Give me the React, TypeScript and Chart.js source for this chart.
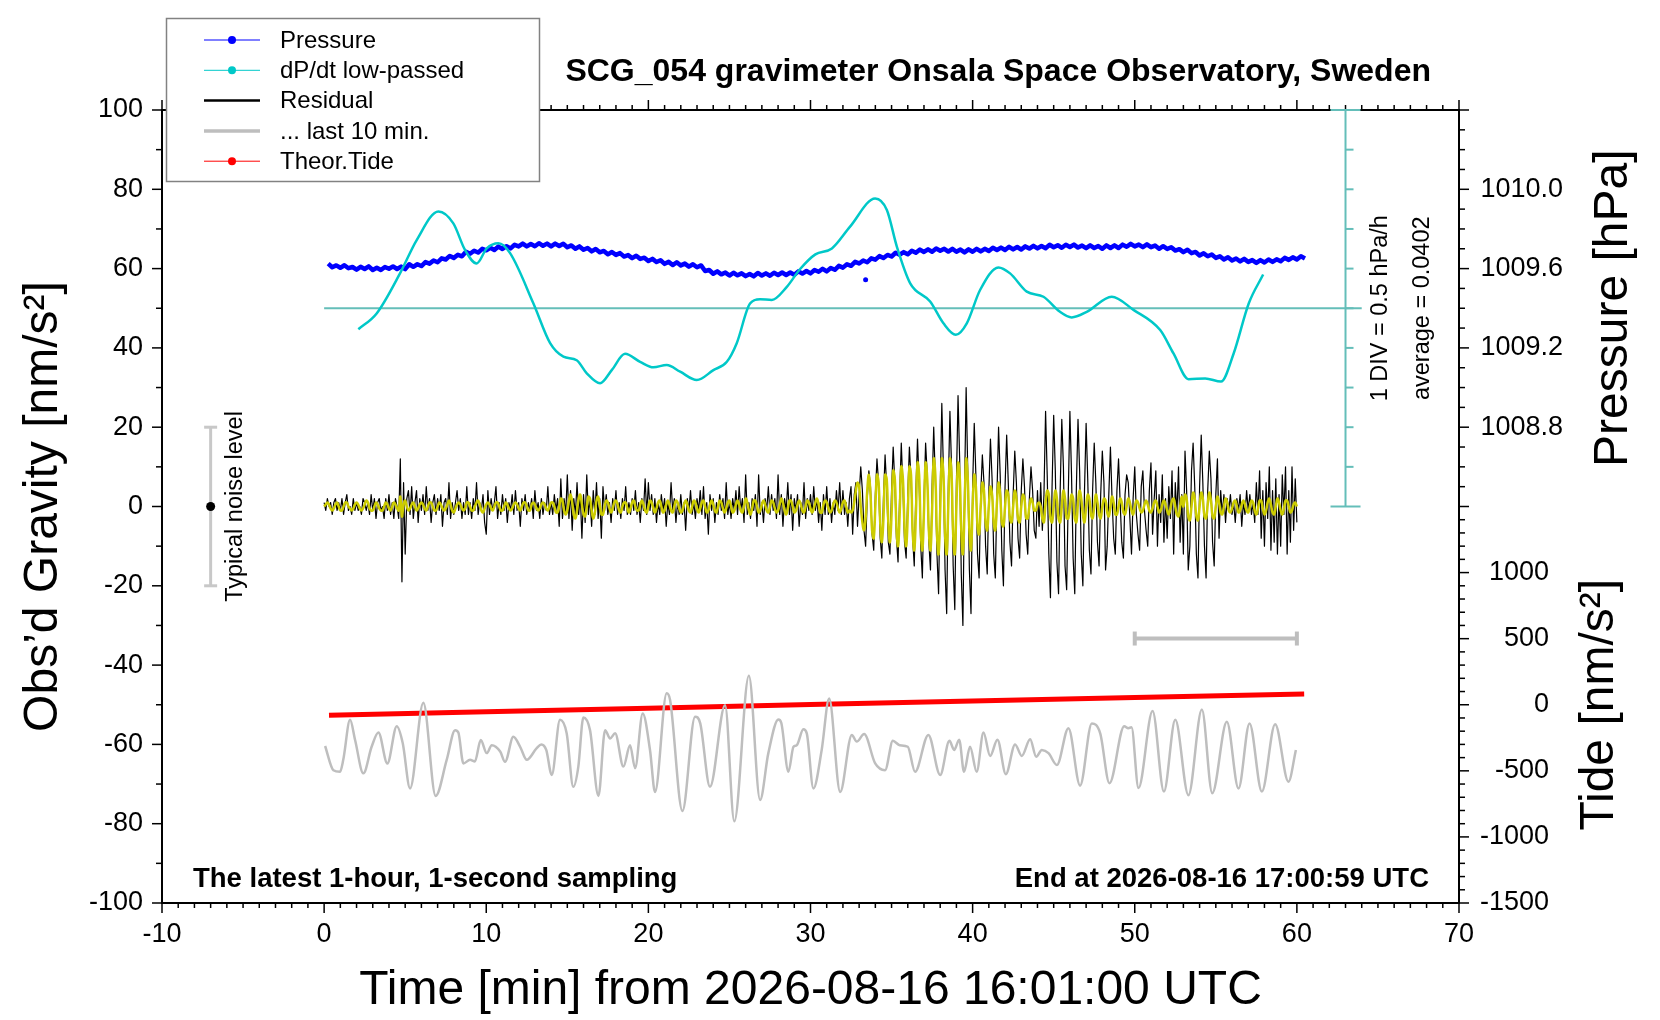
import { useEffect, useRef } from 'react';
import { Chart, registerables } from 'chart.js';

Chart.register(...registerables);

const FONT = "'Liberation Sans', Arial, Helvetica, sans-serif";
Chart.defaults.font.family = FONT;
Chart.defaults.color = '#000';

const TITLE = 'SCG_054 gravimeter Onsala Space Observatory, Sweden';
const NOTE_LEFT = 'The latest 1-hour, 1-second sampling';
const NOTE_RIGHT = 'End at 2026-08-16 17:00:59 UTC';
const LEGEND_LABELS = ['Pressure', 'dP/dt low-passed', 'Residual', '... last 10 min.', 'Theor.Tide'];

// axis ranges
const P_MIN = 1006.4;
const P_MAX = 1010.4;
const TIDE_MIN = -1500;
const TIDE_MAX = 4500;
// dP/dt bar: 1 DIV = 0.5 hPa/h around the average
const DPDT_AVG = 0.0402;
const DPDT_DIV = 0.5;
const DPDT_MIN = DPDT_AVG - 15 * DPDT_DIV;
const DPDT_MAX = DPDT_AVG + 5 * DPDT_DIV;

const PRESSURE_TICKS = [1008.8, 1009.2, 1009.6, 1010.0];
const TIDE_TICKS = [-1500, -1000, -500, 0, 500, 1000];

const NOISE_AT = -7;
const NOISE_LEVEL = 20;
const WINDOW_BAR = [50, 60];
const WINDOW_BAR_Y = -33.3;
const DPDT_BAR_AT = 63;
const AVG_LINE = [0, 64];

// residual sampled every 0.1 min (0 .. 60)
const RES_STEP = 0.1;
const RESIDUAL = [
  1, -1, 2, 0, 1, -2, 1, 2, -1, 1,
  -1, 2, -2, 1, 3, -1, 0, -2, 2, -1,
  1, -1, 0, -2, 2, 1, -1, 1, -2, 3,
  -1, 2, -3, 1, 2, -1, 0, -3, 2, -1,
  3, -2, 1, -3, 2, 0, -3, 12, -19, 6,
  -12, 2, 4, -2, 5, -3, 1, 4, -4, 2,
  -1, 3, -2, 5, -1, 2, -4, 1, 3, -2,
  2, -1, 3, -5, 1, 2, -2, 6, -3, 1,
  -2, 1, 4, -1, 2, -3, 1, -2, 5, -2,
  1, -3, 2, -1, 6, -2, 1, -1, 3, -4,
  -7, 4, -2, 2, -1, 1, 5, -3, 1, -2,
  3, -1, 2, -4, 1, -1, 3, -2, 4, -1,
  1, -5, 2, -1, 3, -2, 1, -1, 2, -3,
  4, -1, 1, -3, 2, -2, 1, -1, 5, -2,
  1, -2, 3, -1, 2, -5, 7, -3, 2, -2,
  8, -3, 4, -6, 2, -2, 6, -2, 3, -8,
  3, -4, 8, -2, 2, -5, 4, -2, 6, -3,
  2, -8, 5, -1, 3, -2, 1, -4, 2, -1,
  4, -2, 1, -3, 2, -1, 5, -2, 1, -2,
  2, -1, 4, -2, 1, -4, 2, -1, 7, -2,
  6, -1, 3, -2, 2, -4, 1, -2, 3, -1,
  2, -5, 1, -2, 6, -1, 2, -4, 1, -2,
  3, -2, 1, -6, 2, -1, 4, -2, 1, -3,
  2, -1, 4, -2, 5, -3, 1, -7, 3, -1,
  2, -4, 1, -2, 3, -1, 2, -3, 6, -2,
  1, -3, 2, -1, 4, -2, 5, -1, 2, -4,
  8, -2, 1, -3, 2, -1, 3, -5, 8, -2,
  1, -4, 2, -1, 5, -2, 3, -1, 2, -3,
  8, -2, 3, -5, 2, -1, 6, -2, 3, -6,
  2, -1, 3, -5, 1, -2, 6, -3, 2, -1,
  3, -2, 5, -1, 2, -4, 1, -6, 3, -2,
  5, -2, 2, -4, 1, -2, 4, -1, 6, -2,
  4, -2, 1, -5, 2, 5, -7, 3, 6, -5,
  3, 10, 4, -6, -10, 2, 9, 5, -7, -11,
  3, 12, 6, -8, -13, 2, 13, 5, -9, -12,
  4, 15, 6, -8, -14, 3, 16, 5, -9, -13,
  3, 15, 7, -8, -15, 4, 17, 6, -10, -18,
  2, 16, 8, -9, -16, 5, 20, 7, -12, -22,
  4, 26, 9, -16, -27, 5, 24, 10, -15, -26,
  6, 28, 12, -17, -30, 4, 30, 9, -16, -27,
  5, 21, 8, -12, -18, 3, 13, 6, -10, -17,
  4, 17, 7, -12, -18, 3, 20, 8, -11, -20,
  5, 18, 6, -9, -15, 3, 14, 6, -8, -13,
  4, 12, 5, -7, -12, 2, 10, 4, -6, -8,
  4, -5, 6, -6, 3, 24, 8, -12, -23, 5,
  23, 9, -14, -22, 4, 22, 10, -15, -21, 3,
  24, 8, -13, -22, 5, 22, 9, -12, -20, 4,
  21, 7, -11, -17, 4, 16, 6, -9, -15, 3,
  14, 6, -16, -10, 3, 15, 2, -8, -12, 4,
  12, 1, -9, -13, 3, 8, 6, -3, -12, 2,
  10, -2, -7, -11, 5, 9, -1, -6, -10, 4,
  11, -7, 2, 9, -10, 3, -4, 8, -9, 2,
  -8, 5, -3, 9, -12, 6, -2, 10, -9, 3,
  -12, 14, 4, -16, -10, 9, 16, 5, -12, -18,
  5, 18, 6, -10, -18, 4, 14, 7, -9, -15,
  3, 12, -8, 4, -2, 3, -4, 2, -1, 3,
  -2, 1, -4, 2, -1, 3, -5, 1, -2, 4,
  -1, 3, -2, 1, -4, 6, -2, 9, -8, 4,
  -10, 6, -3, 10, -11, 4, -9, 7, -12, 3,
  -10, 8, -2, 10, -12, 4, -9, 10, -6, 7,
  -4,
];

// band-passed residual (yellow), same sampling
const RES_FILTERED = [
  0, 0.5, 1, 0.5, -0.5, -1, -0.5, 0.5, 1, 0,
  -1, -1, 0, 1, 1, 0, -0.5, -1, -0.5, 0.5,
  1, 0.5, -0.5, -1, -0.5, 0.5, 1.5, 1, -0.5, -1,
  -1, 0, 1, 0.5, -0.5, -1, -1, 0, 1, 0.5,
  -0.5, -1, 0, 1, 0.5, -0.5, -1, 2.5, -2.5, 0.5,
  1.5, 0, -1, -0.5, 0.5, 1, 0, -1, -0.5, 0.5,
  1, 0.5, -0.5, -1, 0, 1, 1, 0, -1, -1,
  0, 1, 0.5, -0.5, -1, -0.5, 0.5, 1.5, 0.5, -1,
  -1.5, -0.5, 0.5, 1, 0.5, -0.5, -1, -0.5, 1, 1,
  0, -1, -1, 0, 1, 1.5, 0.5, -1, -1.5, -0.5,
  0.5, 1, 0.5, -0.5, -1, 0, 1, 1, 0, -1,
  -1, 0, 1, 0.5, -0.5, -1, -0.5, 0.5, 1, 0.5,
  -0.5, -1, 0, 1, 1, 0, -1, -1, 0.5, 1,
  0.5, -0.5, -1, -0.5, 0.5, 1, 0.5, -0.5, -1, 0,
  1, 1, 0, -1.5, -1.5, 0, 2, 1.5, -1, -2,
  -1, 1.5, 3, 1, -2, -3, -1, 2, 3, 0.5,
  -2, -2.5, 0, 2.5, 2, -1, -3, -1.5, 1.5, 2.5,
  0.5, -2, -2, 0, 1.5, 1, -0.5, -1.5, -0.5, 1,
  1.5, 0.5, -1, -1.5, 0, 1, 1, -0.5, -1.5, -0.5,
  1, 1.5, 0, -1, -1, 0.5, 1.5, 0.5, -1, -1.5,
  0, 1.5, 1, -0.5, -1.5, -0.5, 1, 1.5, 0, -1.5,
  -1, 0.5, 1.5, 0.5, -1, -1.5, 0, 1.5, 1, -0.5,
  -1.5, -1, 0.5, 1.5, 0.5, -1, -1.5, 0, 1.5, 1,
  -0.5, -1.5, -0.5, 1, 1.5, 0, -1.5, -1, 0.5, 1.5,
  0.5, -1, -1.5, 0, 1.5, 1, -0.5, -1.5, -0.5, 1,
  1.5, 0, -1.5, -1, 0.5, 1.5, 0.5, -1, -1.5, 0,
  2, 1, -1, -2, -0.5, 1.5, 1.5, 0, -1.5, -1,
  0.5, 1.5, 0.5, -1, -1.5, 0, 1.5, 1, -0.5, -1.5,
  -1, 0.5, 2, 1, -1, -2, -0.5, 1.5, 1.5, 0,
  -1.5, -1, 0.5, 1.5, 0.5, -1, -1.5, 0, 1.5, 1,
  -0.5, -1.5, -0.5, 1, 2, 0.5, -1.5, -1.5, 0.5, 1.5,
  1, -0.5, -1.5, -1, 0.5, 1.5, 1, -0.5, -1.5, -0.5,
  1, 1.5, 0, -1.5, -1, -1.5, -1, 1, 4, 6,
  5, 0, -4, -6, -3, 4, 8, 3, -6, -8,
  0, 8, 6, -4, -9, -3, 8, 7, -4, -9,
  -2, 9, 7, -5, -10, -2, 10, 7, -5, -10,
  -2, 10, 8, -6, -11, -2, 11, 8, -6, -11,
  -1, 11, 7, -6, -11, -1, 12, 8, -7, -12,
  -1, 12, 8, -7, -12, 0, 12, 8, -7, -12,
  0, 11, 8, -6, -12, -1, 12, 7, -6, -11,
  0, 8, 5, -5, -7, 0, 6, 4, -4, -6,
  0, 5, 3, -4, -6, 1, 6, 3, -4, -5,
  0, 4, 3, -3, -4, 0, 4, 2, -3, -4,
  0, 3, 2, -3, -3, 0, 2, 1, -1, -1,
  0.5, 1, 0, -3, -4, 1, 4, 3, -3, -4,
  0, 4, 2, -3, -4, 0, 4, 2, -3, -3,
  0, 3, 2, -3, -4, 1, 4, 2, -2, -4,
  0, 3, 2, -2, -3, 0, 3, 1, -2, -3,
  0, 2, 1.5, -1.5, -2.5, 0, 2.5, 1, -2, -2,
  0, 2, 1, -1.5, -2, 0, 2, 1, -1, -2,
  0, 1.5, 1, -0.5, -1.5, -1, 0.5, 1.5, 0.5, -1,
  -1.5, -0.5, 1, 1.5, 0, -1.5, -1, 0.5, 1.5, 0.5,
  -1, -2, -0.5, 1.5, 2, 0, -2, -2.5, 0, 2.5,
  0, 3, 2, -2.5, -3.5, 0, 3.5, 2, -2.5, -3.5,
  0, 3.5, 2, -2.5, -3, 0.5, 3.5, 1.5, -2.5, -3,
  0, 2.5, 1, -1.5, -2, 0, 2, 1, -1, -1.5,
  -0.5, 1, 1.5, 0, -1.5, -1, 0.5, 1.5, 0.5, -1,
  -1.5, 0, 1.5, 1, -1, -2, -0.5, 1.5, 1.5, -0.5,
  -2, -1, 1, 2, 0.5, -1.5, -2, 0, 2, 1,
  -1, -2, -0.5, 1.5, 1.5, 0, -1.5, -1, 0.5, 1,
  0,
];

// air pressure [hPa], every 0.25 min from 0.25
const PRES_START = 0.25;
const PRES_STEP = 0.25;
const PRESSURE = [
  1009.625, 1009.607, 1009.616, 1009.604, 1009.617, 1009.602, 1009.608, 1009.595,
  1009.609, 1009.598, 1009.611, 1009.593, 1009.604, 1009.593, 1009.608, 1009.599,
  1009.611, 1009.598, 1009.610, 1009.597, 1009.622, 1009.609, 1009.622, 1009.613,
  1009.633, 1009.625, 1009.641, 1009.632, 1009.652, 1009.646, 1009.664, 1009.654,
  1009.670, 1009.662, 1009.685, 1009.675, 1009.690, 1009.681, 1009.700, 1009.692,
  1009.705, 1009.694, 1009.711, 1009.699, 1009.713, 1009.702, 1009.720, 1009.712,
  1009.726, 1009.712, 1009.724, 1009.713, 1009.728, 1009.715, 1009.726, 1009.712,
  1009.726, 1009.714, 1009.725, 1009.708, 1009.717, 1009.700, 1009.712, 1009.695,
  1009.704, 1009.687, 1009.699, 1009.682, 1009.689, 1009.672, 1009.684, 1009.669,
  1009.678, 1009.661, 1009.668, 1009.653, 1009.665, 1009.649, 1009.655, 1009.638,
  1009.649, 1009.633, 1009.642, 1009.624, 1009.634, 1009.618, 1009.632, 1009.616,
  1009.625, 1009.610, 1009.622, 1009.607, 1009.616, 1009.588, 1009.593, 1009.574,
  1009.586, 1009.571, 1009.580, 1009.565, 1009.579, 1009.566, 1009.576, 1009.562,
  1009.573, 1009.561, 1009.578, 1009.565, 1009.576, 1009.564, 1009.579, 1009.568,
  1009.580, 1009.568, 1009.580, 1009.569, 1009.586, 1009.575, 1009.588, 1009.576,
  1009.593, 1009.584, 1009.599, 1009.586, 1009.603, 1009.594, 1009.614, 1009.605,
  1009.622, 1009.614, 1009.634, 1009.626, 1009.641, 1009.632, 1009.652, 1009.645,
  1009.663, 1009.653, 1009.669, 1009.661, 1009.680, 1009.670, 1009.683, 1009.672,
  1009.690, 1009.680, 1009.696, 1009.684, 1009.697, 1009.685, 1009.701, 1009.690,
  1009.700, 1009.686, 1009.700, 1009.685, 1009.696, 1009.682, 1009.697, 1009.685,
  1009.700, 1009.687, 1009.700, 1009.689, 1009.705, 1009.694, 1009.706, 1009.694,
  1009.710, 1009.697, 1009.709, 1009.696, 1009.712, 1009.701, 1009.715, 1009.702,
  1009.714, 1009.703, 1009.720, 1009.708, 1009.718, 1009.705, 1009.720, 1009.709,
  1009.721, 1009.706, 1009.716, 1009.703, 1009.717, 1009.704, 1009.714, 1009.700,
  1009.717, 1009.704, 1009.717, 1009.704, 1009.721, 1009.710, 1009.725, 1009.712,
  1009.721, 1009.708, 1009.722, 1009.708, 1009.716, 1009.700, 1009.713, 1009.699,
  1009.708, 1009.691, 1009.698, 1009.683, 1009.695, 1009.678, 1009.684, 1009.666,
  1009.677, 1009.662, 1009.671, 1009.654, 1009.662, 1009.646, 1009.657, 1009.641,
  1009.651, 1009.636, 1009.649, 1009.634, 1009.643, 1009.629, 1009.643, 1009.631,
  1009.646, 1009.634, 1009.647, 1009.637, 1009.654, 1009.644, 1009.657, 1009.646,
  1009.662, 1009.651,
];
const PRESSURE_SPIKE_T = [33.4];
const PRESSURE_SPIKE_V = [1009.544];

// dP/dt low-passed [hPa/h]
const DPDT_T = [
  2.11, 3.24, 4.68, 5.71, 7.05, 7.97, 8.69, 9.41, 10.03, 10.75,
  11.47, 12.91, 13.94, 14.76, 15.58, 16.2, 17.02, 17.74, 18.56, 19.49,
  20.31, 21.13, 21.96, 22.99, 24.01, 24.84, 25.45, 26.27, 26.89, 27.61,
  28.54, 29.36, 30.3, 31.32, 32.44, 33.99, 34.71, 35.33, 36.15, 37.38,
  38.2, 38.96, 39.64, 40.46, 41.59, 42.31, 43.34, 44.37, 45.39, 46.11,
  47.04, 48.58, 49.92, 51.57, 52.39, 53.32, 54.35, 55.32, 56.1, 57.03,
  57.92,
];
const DPDT_V = [
  -0.225, -0.025, 0.48, 0.9, 1.26, 1.11, 0.775, 0.605, 0.795, 0.86,
  0.735, 0.1, -0.4, -0.57, -0.615, -0.78, -0.905, -0.74, -0.535, -0.635,
  -0.705, -0.675, -0.76, -0.865, -0.74, -0.635, -0.4, 0.1, 0.155, 0.145,
  0.31, 0.535, 0.72, 0.795, 1.07, 1.425, 1.28, 0.815, 0.355, 0.125,
  -0.15, -0.295, -0.15, 0.27, 0.555, 0.48, 0.25, 0.185, -0.005, -0.075,
  -0.005, 0.185, 0.02, -0.235, -0.53, -0.855, -0.845, -0.885, -0.53, 0.1,
  0.465,
];

// last 10 minutes of residual, stretched over the hour (gravity axis units)
const LAST10_T = [
  0.06, 0.57, 0.98, 1.18, 1.6, 1.91, 2.42, 2.93, 3.35, 3.9,
  4.48, 4.85, 5.3, 6.12, 6.88, 7.56, 8.08, 8.28, 8.59, 9.0,
  9.3, 9.66, 10.03, 10.34, 10.86, 11.16, 11.67, 12.09, 12.5, 13.1,
  13.4, 13.7, 14.04, 14.55, 14.96, 15.37, 15.68, 15.99, 16.4, 16.92,
  17.33, 17.64, 17.95, 18.46, 18.87, 19.18, 19.65, 20.1, 20.41, 21.13,
  21.34, 22.1, 22.88, 23.2, 23.8, 24.73, 25.3, 26.2, 26.89, 27.4,
  28.02, 28.2, 28.64, 28.95, 29.15, 29.56, 29.77, 30.18, 30.69, 31.15,
  31.83, 32.55, 32.85, 33.31, 33.99, 34.6, 35.08, 35.5, 36.0, 36.45,
  37.27, 38.0, 38.57, 38.86, 39.17, 39.47, 39.84, 40.25, 40.67, 41.08,
  41.53, 42.05, 42.62, 43.03, 43.55, 43.92, 44.27, 44.68, 45.2, 45.91,
  46.63, 47.35, 47.87, 48.44, 49.35, 49.6, 49.8, 50.23, 51.1, 51.8,
  52.5, 53.31, 54.14, 54.78, 55.68, 56.4, 57.08, 57.84, 58.66, 59.48,
  59.94,
];
const LAST10_V = [
  -60.4, -66.5, -66.9, -63.9, -53.8, -58.9, -67.3, -60.6, -57.0, -64.8,
  -55.4, -59.7, -71.1, -49.5, -73, -63.9, -56.4, -57, -64.8, -63.9,
  -64.3, -58.9, -62.2, -60.2, -61.8, -64.4, -58.1, -60.6, -63.9, -61,
  -60, -61.4, -67.7, -53.8, -57.2, -70.7, -65.6, -53.2, -56.4, -73,
  -56.4, -58.5, -57.2, -65.6, -60.2, -66, -52.2, -61.4, -72, -47.1,
  -48.8, -76.8, -53, -54.7, -70.7, -50.1, -79.4, -42.7, -74, -62.2,
  -53.7, -54.6, -66.9, -60.6, -60.2, -56.2, -57.2, -71.1, -61.4, -48.4,
  -72, -57.6, -59.3, -57.4, -64.8, -66.5, -59.1, -60.2, -60.6, -66.9,
  -57.6, -67.7, -59.1, -61.4, -58.8, -66.9, -60.6, -66.9, -57.0, -62.9,
  -58.8, -67.5, -60.0, -62.9, -58.7, -63.1, -61.4, -62.2, -65.2, -55.9,
  -70.4, -54.7, -57.2, -69.8, -55.4, -55.9, -55.7, -71, -51.6, -71.9,
  -53.8, -72.8, -51.2, -72.3, -54.3, -71.1, -54.7, -71.9, -54.9, -69.4,
  -61.4,
];

// theoretical tide [nm/s^2]
const TIDE_T = [0.3, 10, 20, 30, 40, 50, 60.45];
const TIDE_V = [-80, -53, -26, 1, 28, 54, 81];

const pairs = (t: number[], v: number[]) => t.map((x, i) => ({ x, y: v[i] }));
const sampled = (start: number, step: number, v: number[]) =>
  v.map((y, i) => ({ x: start + i * step, y }));

function rotText(ctx: CanvasRenderingContext2D, s: string, x: number, y: number, font: string) {
  ctx.save();
  ctx.font = font;
  ctx.textAlign = 'center';
  ctx.textBaseline = 'alphabetic';
  ctx.translate(x, y);
  ctx.rotate(-Math.PI / 2);
  ctx.fillText(s, 0, 0);
  ctx.restore();
}

const decor = {
  id: 'decor',
  afterDatasetsDraw(chart: any) {
    const { ctx, chartArea: a, scales } = chart;
    const sx = scales.x;
    const sy = scales.y;
    const sp = scales.yP;
    const st = scales.yT;
    const sd = scales.yD;
    const seg = (x0: number, y0: number, x1: number, y1: number) => {
      ctx.beginPath();
      ctx.moveTo(x0, y0);
      ctx.lineTo(x1, y1);
      ctx.stroke();
    };
    ctx.save();
    ctx.fillStyle = '#000';

    // frame
    ctx.strokeStyle = '#000';
    ctx.lineWidth = 2;
    ctx.strokeRect(a.left, a.top, a.right - a.left, a.bottom - a.top);

    // outward ticks
    ctx.lineWidth = 1.5;
    for (let m = -10; m <= 70; m++) {
      const px = sx.getPixelForValue(m);
      const len = m % 10 === 0 ? 10 : 5;
      seg(px, a.bottom, px, a.bottom + len);
      seg(px, a.top, px, a.top - len);
    }
    for (let g = -100; g <= 100; g += 10) {
      const py = sy.getPixelForValue(g);
      seg(a.left, py, a.left - (g % 20 === 0 ? 10 : 6), py);
    }
    for (let k = 10084; k <= 10104; k++) {
      const py = sp.getPixelForValue(k / 10);
      seg(a.right, py, a.right + (k % 4 === 0 ? 10 : 6), py);
    }
    for (let t = -1500; t <= 1400; t += 100) {
      const py = st.getPixelForValue(t);
      seg(a.right, py, a.right + (t % 500 === 0 ? 10 : 6), py);
    }

    // right axis labels
    ctx.font = `27px ${FONT}`;
    ctx.textAlign = 'right';
    ctx.textBaseline = 'middle';
    PRESSURE_TICKS.forEach((p) => ctx.fillText(p.toFixed(1), a.right + 104, sp.getPixelForValue(p)));
    TIDE_TICKS.forEach((t) => ctx.fillText(String(t), a.right + 90, st.getPixelForValue(t)));

    // typical noise level
    const nx = sx.getPixelForValue(NOISE_AT);
    const n0 = sy.getPixelForValue(-NOISE_LEVEL);
    const n1 = sy.getPixelForValue(NOISE_LEVEL);
    ctx.strokeStyle = 'rgb(200,200,200)';
    ctx.lineWidth = 3;
    seg(nx, n0, nx, n1);
    seg(nx - 6.5, n0, nx + 6.5, n0);
    seg(nx - 6.5, n1, nx + 6.5, n1);
    ctx.beginPath();
    ctx.arc(nx, sy.getPixelForValue(0), 4.5, 0, Math.PI * 2);
    ctx.fill();
    rotText(ctx, 'Typical noise level', nx + 31, sy.getPixelForValue(0), `23.5px ${FONT}`);

    // 10-minute window bar
    const wx0 = sx.getPixelForValue(WINDOW_BAR[0]);
    const wx1 = sx.getPixelForValue(WINDOW_BAR[1]);
    const wy = sy.getPixelForValue(WINDOW_BAR_Y);
    ctx.strokeStyle = 'rgb(190,190,190)';
    ctx.lineWidth = 4;
    seg(wx0, wy, wx1, wy);
    seg(wx0, wy - 7, wx0, wy + 7);
    seg(wx1, wy - 7, wx1, wy + 7);

    // dP/dt scale bar
    const cx = sx.getPixelForValue(DPDT_BAR_AT);
    const c0 = sd.getPixelForValue(DPDT_AVG - 5 * DPDT_DIV);
    const c1 = sd.getPixelForValue(DPDT_AVG + 5 * DPDT_DIV);
    ctx.strokeStyle = 'rgb(100,190,185)';
    ctx.lineWidth = 2;
    seg(cx, c0, cx, c1);
    seg(cx - 15, c0, cx + 15, c0);
    seg(cx - 15, c1, cx + 15, c1);
    for (let k = -4; k <= 4; k++) {
      const py = sd.getPixelForValue(DPDT_AVG + k * DPDT_DIV);
      seg(cx, py, cx + 8, py);
    }
    const cy = sd.getPixelForValue(DPDT_AVG);
    rotText(ctx, `1 DIV = ${DPDT_DIV} hPa/h`, cx + 41, cy, `23.5px ${FONT}`);
    rotText(ctx, `average = ${DPDT_AVG}`, cx + 83, cy, `23.5px ${FONT}`);

    // titles and notes
    ctx.textBaseline = 'middle';
    ctx.font = `bold 32px ${FONT}`;
    ctx.textAlign = 'right';
    ctx.fillText(TITLE, a.right - 28, 72);
    ctx.font = `bold 27.5px ${FONT}`;
    ctx.fillText(NOTE_RIGHT, a.right - 30, a.bottom - 24);
    ctx.textAlign = 'left';
    ctx.fillText(NOTE_LEFT, a.left + 31, a.bottom - 24);

    rotText(ctx, 'Pressure [hPa]', 1627, sp.getPixelForValue(1009.4), `48px ${FONT}`);
    rotText(ctx, 'Tide [nm/s²]', 1613, st.getPixelForValue(0), `48px ${FONT}`);

    // legend
    const lx = 166.5;
    const ly = 18.5;
    ctx.fillStyle = '#fff';
    ctx.fillRect(lx, ly, 373, 163);
    ctx.strokeStyle = 'rgb(130,130,130)';
    ctx.lineWidth = 1.5;
    ctx.strokeRect(lx, ly, 373, 163);
    const styles = [
      { color: '#0000ff', width: 1, dot: true },
      { color: 'rgb(0,200,200)', width: 1, dot: true },
      { color: '#000', width: 2.5, dot: false },
      { color: 'rgb(190,190,190)', width: 3.5, dot: false },
      { color: '#ff0000', width: 1, dot: true },
    ];
    ctx.font = `24px ${FONT}`;
    ctx.textAlign = 'left';
    ctx.textBaseline = 'middle';
    LEGEND_LABELS.forEach((label, i) => {
      const yy = 40 + i * 30.3;
      const s = styles[i];
      ctx.strokeStyle = s.color;
      ctx.lineWidth = s.width;
      seg(204, yy, 260, yy);
      if (s.dot) {
        ctx.fillStyle = s.color;
        ctx.beginPath();
        ctx.arc(232, yy, 4, 0, Math.PI * 2);
        ctx.fill();
      }
      ctx.fillStyle = '#000';
      ctx.fillText(label, 280, yy + 1);
    });
    ctx.restore();
  },
};

export default function App() {
  const canvasRef = useRef<HTMLCanvasElement>(null);

  useEffect(() => {
    if (!canvasRef.current) return;
    const chart = new Chart(canvasRef.current, {
      type: 'line',
      data: {
        datasets: [
          {
            label: 'filtered',
            data: sampled(0, RES_STEP, RES_FILTERED),
            yAxisID: 'y',
            borderColor: 'rgb(204,204,0)',
            borderWidth: 2.5,
            tension: 0.4,
            order: 1,
          },
          {
            label: 'Residual',
            data: sampled(0, RES_STEP, RESIDUAL),
            yAxisID: 'y',
            borderColor: '#000',
            borderWidth: 1.2,
            order: 2,
          },
          {
            label: 'dP/dt low-passed',
            data: pairs(DPDT_T, DPDT_V),
            yAxisID: 'yD',
            borderColor: 'rgb(0,200,200)',
            borderWidth: 2.5,
            cubicInterpolationMode: 'monotone',
            order: 3,
          },
          {
            label: 'Pressure',
            data: sampled(PRES_START, PRES_STEP, PRESSURE),
            yAxisID: 'yP',
            borderColor: '#0000ff',
            borderWidth: 4.5,
            order: 4,
          },
          {
            label: 'Pressure spike',
            data: pairs(PRESSURE_SPIKE_T, PRESSURE_SPIKE_V),
            yAxisID: 'yP',
            showLine: false,
            pointRadius: 2.5,
            pointBackgroundColor: '#0000ff',
            pointBorderWidth: 0,
            order: 4,
          },
          {
            label: '... last 10 min.',
            data: pairs(LAST10_T, LAST10_V),
            yAxisID: 'y',
            borderColor: 'rgb(190,190,190)',
            borderWidth: 2.5,
            cubicInterpolationMode: 'monotone',
            order: 5,
          },
          {
            label: 'Theor.Tide',
            data: pairs(TIDE_T, TIDE_V),
            yAxisID: 'yT',
            borderColor: '#ff0000',
            borderWidth: 5,
            order: 6,
          },
          {
            label: 'average',
            data: AVG_LINE.map((x) => ({ x, y: DPDT_AVG })),
            yAxisID: 'yD',
            borderColor: 'rgb(100,190,185)',
            borderWidth: 2,
            order: 7,
          },
        ],
      },
      options: {
        responsive: true,
        maintainAspectRatio: false,
        animation: false,
        events: [],
        layout: { padding: { top: 110, right: 201, bottom: 0, left: 0 } },
        elements: {
          point: { radius: 0 },
          line: { borderJoinStyle: 'round', fill: false },
        },
        plugins: {
          legend: { display: false },
          tooltip: { enabled: false },
        },
        scales: {
          x: {
            type: 'linear',
            min: -10,
            max: 70,
            afterFit: (s: any) => {
              s.height = 117;
            },
            ticks: { stepSize: 10, font: { size: 27 }, color: '#000', padding: 15, maxRotation: 0 },
            grid: { display: false, drawTicks: false },
            border: { display: false },
            title: {
              display: true,
              text: 'Time [min] from 2026-08-16 16:01:00 UTC',
              font: { size: 48 },
              color: '#000',
              padding: { top: 1, bottom: 0 },
            },
          },
          y: {
            type: 'linear',
            position: 'left',
            min: -100,
            max: 100,
            afterFit: (s: any) => {
              s.width = 162;
            },
            ticks: { stepSize: 20, font: { size: 27 }, color: '#000', padding: 19 },
            grid: { display: false, drawTicks: false },
            border: { display: false },
            title: {
              display: true,
              text: 'Obs’d Gravity [nm/s²]',
              font: { size: 48 },
              color: '#000',
              padding: { top: 15, bottom: 0 },
            },
          },
          yP: { type: 'linear', display: false, min: P_MIN, max: P_MAX },
          yT: { type: 'linear', display: false, min: TIDE_MIN, max: TIDE_MAX },
          yD: { type: 'linear', display: false, min: DPDT_MIN, max: DPDT_MAX },
        },
      },
      plugins: [decor],
    } as any);
    return () => chart.destroy();
  }, []);

  return (
    <div style={{ position: 'fixed', left: 0, top: 0, width: 1660, height: 1020, background: '#fff' }}>
      <canvas ref={canvasRef} />
    </div>
  );
}
